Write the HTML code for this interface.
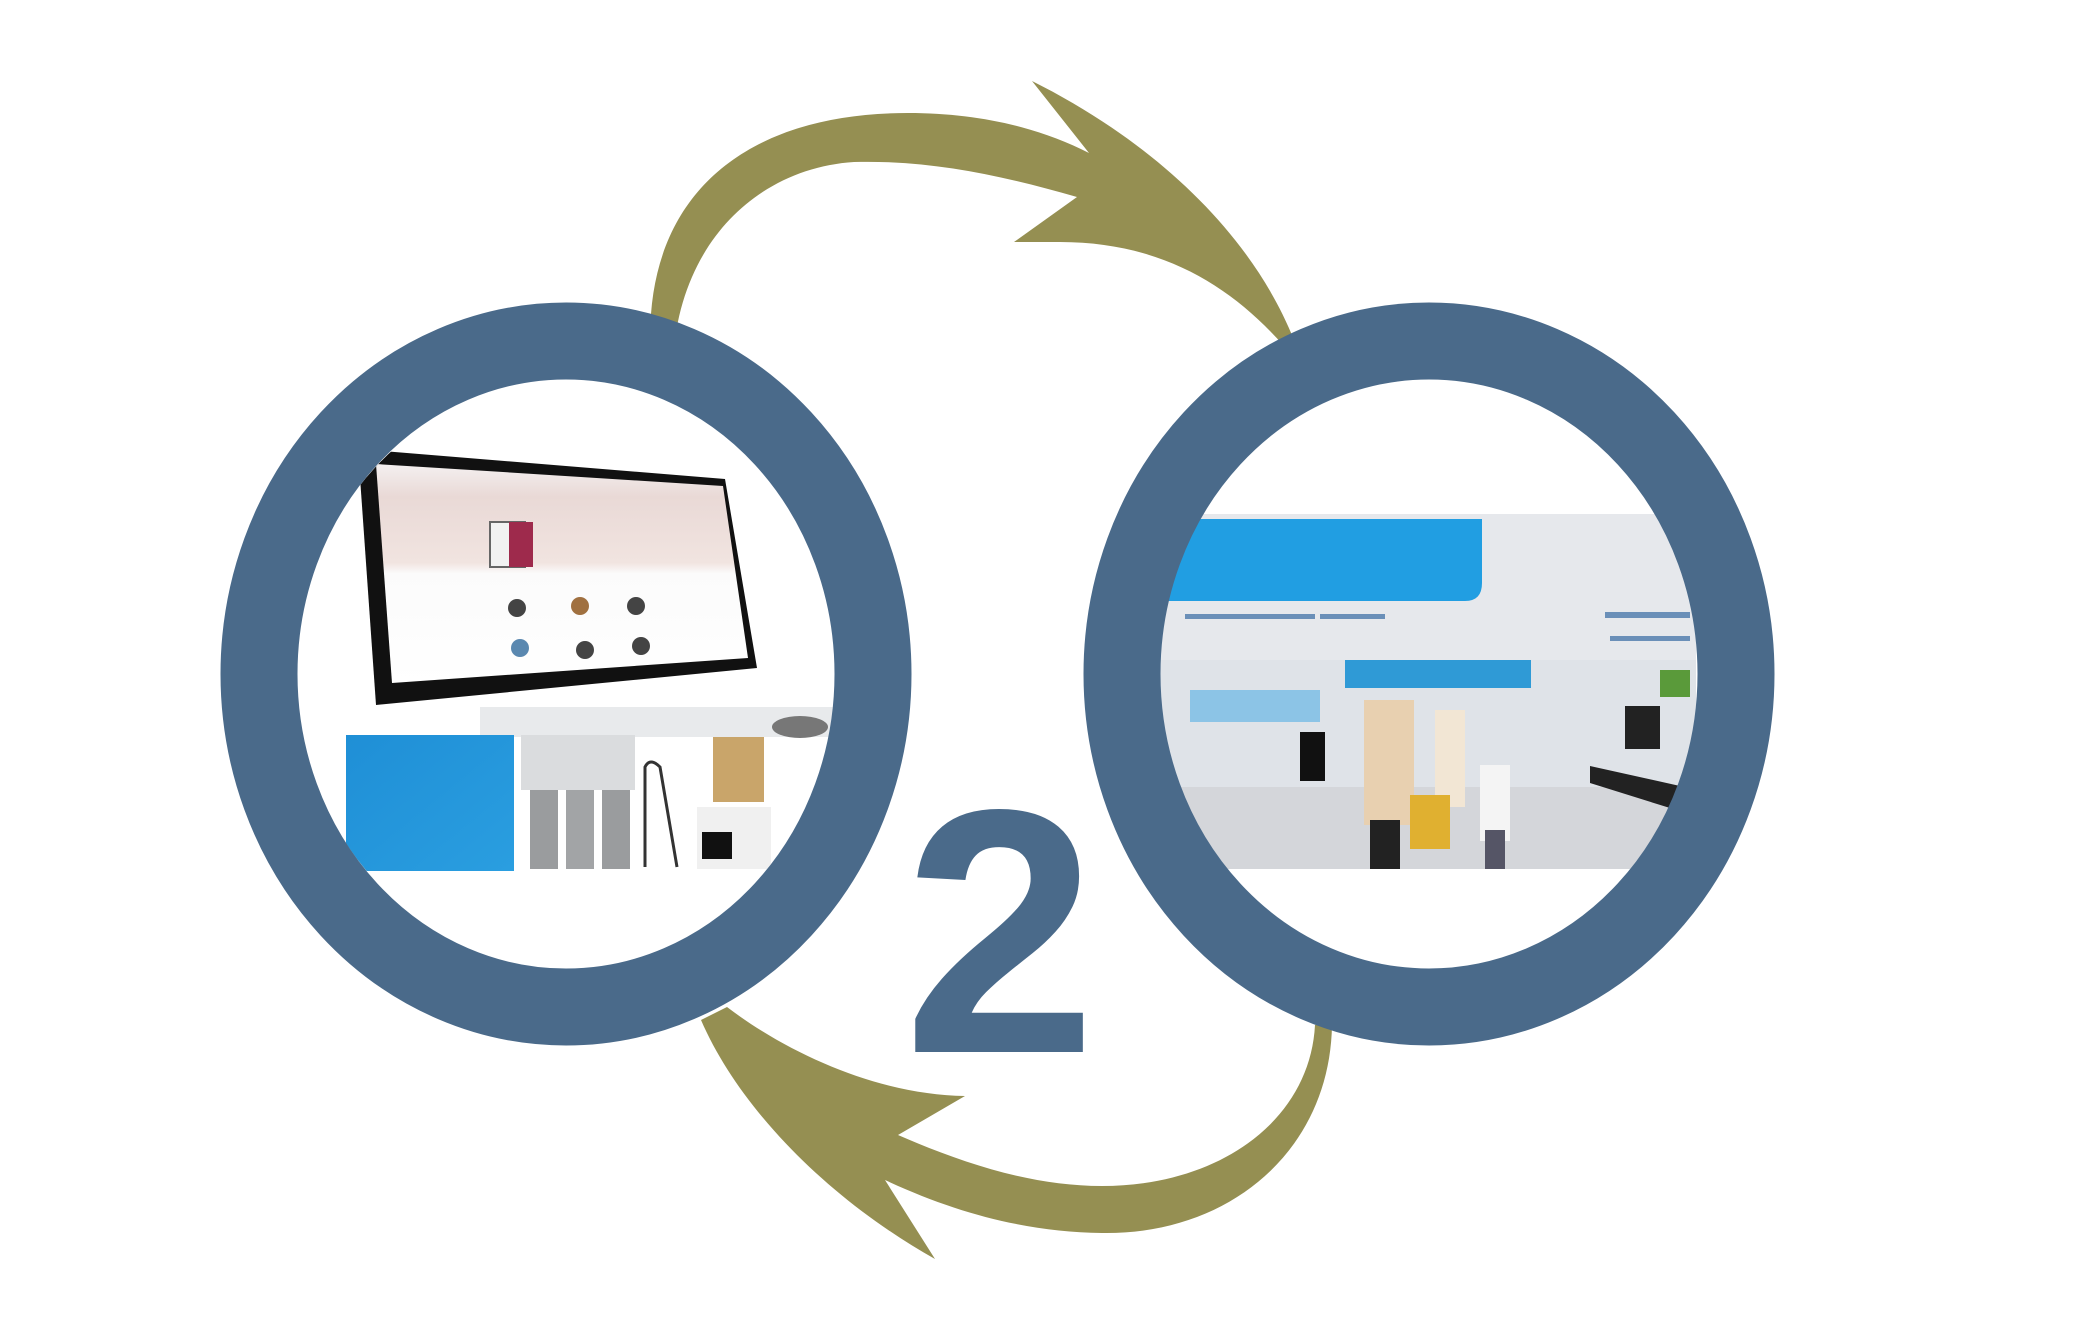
<!DOCTYPE html>
<html><head><meta charset="utf-8"><style>html,body{margin:0;padding:0;background:#fff}svg{display:block}</style></head>
<body>
<svg width="2097" height="1330" viewBox="0 0 2097 1330" xmlns="http://www.w3.org/2000/svg">
<defs>
<clipPath id="cl"><ellipse cx="566" cy="674" rx="270" ry="292"/></clipPath>
<clipPath id="cr"><ellipse cx="1429" cy="674" rx="270" ry="292"/></clipPath>
<linearGradient id="scr" x1="0" y1="0" x2="0" y2="1">
<stop offset="0" stop-color="#f4f0f0"/><stop offset="0.15" stop-color="#e9d9d6"/><stop offset="0.45" stop-color="#f1e4e0"/><stop offset="0.5" stop-color="#fbfbfb"/><stop offset="1" stop-color="#ffffff"/></linearGradient>
<linearGradient id="blu" x1="0" y1="0" x2="1" y2="1"><stop offset="0" stop-color="#1f8fd6"/><stop offset="1" stop-color="#2a9ee0"/></linearGradient>
</defs>
<rect width="2097" height="1330" fill="#fff"/>
<!-- arrows -->
<path fill="#958f52" d="M651,360 C640,200 740,113 908,113 C980,113 1040,128 1089,153 L1032,81 C1150,140 1250,230 1294,340 L1283,345 C1230,285 1160,242 1060,242 L1014,242 L1077,197 C1000,175 930,160 854,162 C760,168 680,240 673,360 Z"/>
<path fill="#958f52" d="M1332,1025 C1330,1150 1230,1235 1102,1233 C1030,1232 960,1215 885,1180 L935,1259 C830,1200 740,1110 701,1020 L727,1007 C790,1055 880,1095 965,1096 L898,1135 C960,1162 1030,1186 1102,1186 C1220,1186 1310,1120 1315,1025 Z"/>
<!-- left photo -->
<g clip-path="url(#cl)">
<rect x="290" y="370" width="560" height="620" fill="#fff"/>
<polygon points="358,449 725,479 757,668 376,705" fill="#111"/>
<polygon points="376,464 723,486 748,658 392,683" fill="url(#scr)"/>
<rect x="490" y="522" width="35" height="45" fill="#f2f2f2" stroke="#666" stroke-width="2"/>
<rect x="509" y="522" width="24" height="45" fill="#9e2a4c"/>
<g fill="#444"><circle cx="517" cy="608" r="9"/><circle cx="580" cy="606" r="9" fill="#a07040"/><circle cx="636" cy="606" r="9"/><circle cx="520" cy="648" r="9" fill="#5a88b0"/><circle cx="585" cy="650" r="9"/><circle cx="641" cy="646" r="9"/></g>
<rect x="480" y="707" width="370" height="30" fill="#e8eaec"/>
<rect x="346" y="735" width="168" height="136" fill="url(#blu)"/>
<rect x="521" y="735" width="114" height="55" fill="#dadcde"/>
<rect x="530" y="790" width="28" height="79" fill="#9a9c9e"/><rect x="566" y="790" width="28" height="79" fill="#a2a4a6"/><rect x="602" y="790" width="28" height="79" fill="#9a9c9e"/>
<path d="M645,867 L645,767 Q650,757 660,767 L677,867" stroke="#333" stroke-width="3" fill="none"/>
<rect x="713" y="737" width="51" height="65" fill="#c9a56a"/>
<rect x="697" y="807" width="74" height="62" fill="#f0f0f0"/>
<rect x="702" y="832" width="30" height="27" fill="#111"/>
<ellipse cx="800" cy="727" rx="28" ry="11" fill="#777"/>
</g>
<!-- right photo -->
<g clip-path="url(#cr)">
<rect x="1150" y="370" width="560" height="620" fill="#fff"/>
<rect x="1158" y="514" width="538" height="355" fill="#e6e8ec"/>
<path d="M1160,519 L1482,519 L1482,583 Q1482,601 1465,601 L1160,601 Z" fill="#219ee2"/>
<g fill="#6a8fb8"><rect x="1185" y="614" width="130" height="5"/><rect x="1320" y="614" width="65" height="5"/><rect x="1605" y="612" width="85" height="6"/><rect x="1610" y="636" width="80" height="5"/></g>
<rect x="1158" y="660" width="538" height="209" fill="#dfe3e8"/>
<rect x="1345" y="660" width="186" height="28" fill="#2f9ad6"/>
<rect x="1190" y="690" width="130" height="32" fill="#8cc4e6"/>
<rect x="1158" y="787" width="538" height="82" fill="#d4d6da"/>
<rect x="1364" y="700" width="50" height="125" fill="#e8d0b0"/>
<rect x="1370" y="820" width="30" height="49" fill="#222"/>
<rect x="1435" y="710" width="30" height="97" fill="#f2e6d4"/>
<rect x="1410" y="795" width="40" height="54" fill="#e0b030"/>
<rect x="1480" y="765" width="30" height="76" fill="#f4f4f4"/><rect x="1485" y="830" width="20" height="39" fill="#556"/>
<rect x="1625" y="706" width="35" height="43" fill="#222"/>
<path d="M1590,766 L1680,786 L1670,808 L1590,783 Z" fill="#222"/>
<rect x="1660" y="670" width="30" height="27" fill="#5a9a3a"/>
<rect x="1300" y="732" width="25" height="49" fill="#111"/>
</g>
<!-- rings -->
<ellipse cx="566" cy="674" rx="307" ry="333" fill="none" stroke="#4a6a8a" stroke-width="77"/>
<ellipse cx="1429" cy="674" rx="307" ry="333" fill="none" stroke="#4a6a8a" stroke-width="77"/>
<text x="1000" y="1052" text-anchor="middle" font-family="Liberation Sans, sans-serif" font-weight="bold" font-size="348" fill="#4a6a8a">2</text>
</svg>
</body></html>
